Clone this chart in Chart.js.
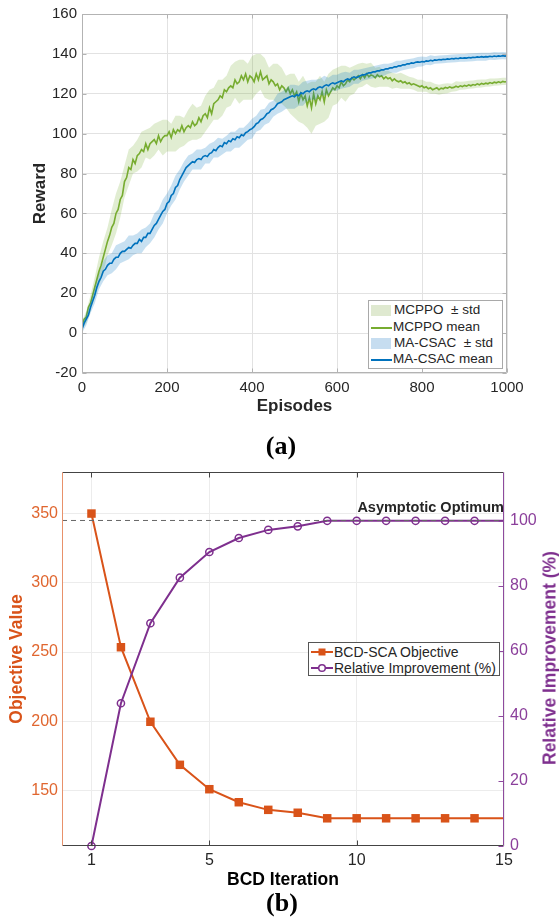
<!DOCTYPE html>
<html>
<head>
<meta charset="utf-8">
<script src="https://cdn.jsdelivr.net/npm/chart.js@4.4.1/dist/chart.umd.min.js"></script>
<style>
  html, body { margin:0; padding:0; background:#fff; }
  body { width:559px; height:922px; position:relative; overflow:hidden; font-family:'Liberation Sans', Arial, Helvetica, sans-serif; }
  canvas { position:absolute; left:0; }
  .ov { position:absolute; white-space:pre; }
  .leg { position:absolute; background:#fff; }
  .row { position:absolute; left:0; height:16px; line-height:16px; white-space:pre; }
  .cap { position:absolute; font-family:'Liberation Serif','Times New Roman',serif; font-weight:bold; font-size:26px; color:#000; transform:translate(-50%,-50%); }
</style>
</head>
<body>
<canvas id="c1" width="559" height="420" style="top:0"></canvas>
<canvas id="c2" width="559" height="460" style="top:440px"></canvas>

<div class="leg" style="left:368px;top:300px;width:133px;height:67px;border:1px solid #a9a9a9;font-size:13.5px;color:#262626;">
  <div class="row" style="top:1px"><span style="position:absolute;left:2px;top:3px;width:20px;height:11px;background:#dfe9d0"></span><span style="position:absolute;left:25px">MCPPO  ± std</span></div>
  <div class="row" style="top:18px"><span style="position:absolute;left:2px;top:8px;width:21px;height:1.5px;background:#77AC30"></span><span style="position:absolute;left:24px">MCPPO mean</span></div>
  <div class="row" style="top:34px"><span style="position:absolute;left:2px;top:3px;width:20px;height:11px;background:#c6ddf0"></span><span style="position:absolute;left:25px">MA-CSAC  ± std</span></div>
  <div class="row" style="top:50px"><span style="position:absolute;left:2px;top:8px;width:21px;height:1.5px;background:#0072BD"></span><span style="position:absolute;left:24px">MA-CSAC mean</span></div>
</div>

<div class="leg" style="left:308px;top:642px;width:190px;height:32px;border:1px solid #555;font-size:14px;color:#262626;">
  <div class="row" style="top:1px;height:16px"><svg style="position:absolute;left:2px;top:0" width="22" height="16"><line x1="0" y1="8" x2="22" y2="8" stroke="#D95319" stroke-width="2"/><rect x="7.5" y="4.5" width="7" height="7" fill="#D95319"/></svg><span style="position:absolute;left:25px">BCD-SCA Objective</span></div>
  <div class="row" style="top:17px;height:16px"><svg style="position:absolute;left:2px;top:0" width="22" height="16"><line x1="0" y1="8" x2="22" y2="8" stroke="#7E2F8E" stroke-width="2"/><circle cx="11" cy="8" r="3.3" fill="#fff" stroke="#7E2F8E" stroke-width="1.5"/></svg><span style="position:absolute;left:25px">Relative Improvement (%)</span></div>
</div>

<div class="ov" style="right:55px;top:498px;font-size:14.5px;font-weight:bold;color:#262626;line-height:18px;">Asymptotic Optimum</div>
<div class="ov" style="left:550px;top:658px;transform:translate(-50%,-50%) rotate(-90deg);font-size:17.5px;font-weight:bold;color:#7E2F8E;">Relative Improvement (%)</div>
<div class="cap" style="left:281px;top:446px">(a)</div>
<div class="cap" style="left:282px;top:903px">(b)</div>

<script>
// ---------------- (a) Reward vs Episodes ----------------
const episodeStep = 5;           // mean curves sampled every 5 episodes
const stdStep = 10;              // std band sampled every 10 episodes
const rewardTicksY = [-20, 0, 20, 40, 60, 80, 100, 120, 140, 160];
const episodeTicks = [0, 200, 400, 600, 800, 1000];

const mcppoMean = [
  4,7,8,13,15,19,23,27,31,34,
  38,42,46,49,53,55,60,62,67,69,
  76,78,83,82,87,85,89,90,92,91,
  95,92,95,96,97,95,99,96,98,99,
  99,101,98,102,100,102,101,104,101,103,
  104,103,106,104,105,108,106,109,110,108,
  113,110,115,116,117,119,118,122,121,123,
  124,123,127,125,126,129,127,130,126,129,
  128,126,130,127,131,127,128,129,125,127,
  126,124,125,122,124,123,121,123,120,122,
  119,121,116,120,117,119,114,118,113,120,
  115,119,117,121,116,122,119,121,123,122,
  124,123,126,124,125,127,126,128,127,128,
  129,127.5,129.5,128,130,128.5,129.5,129,128,129.5,
  128.5,129,127.5,128.5,127.5,128,126.5,127.5,126.5,126,
  126.5,125.5,126,125,125.5,124.5,125,124.5,124,123.5,
  124,123,123.5,122.5,123,122,122.5,123,122,122.8,
  122.5,123.2,122.8,123.5,123,123.2,123.8,123.3,124,123.6,
  124.2,123.8,124.5,124,124.6,124.3,125,124.5,125.2,124.8,
  125.3,125,125.6,125.2,125.8,125.5,126,125.6,126.2,125.9,
  126.2
];
const macsacMean = [
  2,5,7,9,13,16,19,23,26,28,
  31,32,34,35,35,37,38,38,40,41,
  41,42,43,42.5,44,45,45,47,46,48,
  48,50,50,52,54,55,57,59,61,62,
  65,66,69,70,73,74,77,79,81,83,
  84,85,86,85.5,87,87.5,87,88.5,89,88.5,
  90,90.5,92,91.5,93,94,93.5,95.5,95,96.5,
  96,97.5,97,98.5,98,99.5,99,100.5,101,102,
  102.5,103.5,105,105.5,107,107.5,108.5,110,110.5,112,
  112.5,113.5,115,115.5,116,117,117.5,118,118.5,119,
  118.5,119.5,119,120.5,120,121,121.5,121,122,122.5,
  122,123,123.5,123,124,124.5,124,125,125.5,125,
  125.5,126,126.5,126,127,127.5,127,128,128.5,128,
  128.5,129,129.5,129.5,130,130.5,130.5,131,131,131.5,
  131.5,132,132,132.5,132.5,133,133,133.5,133.5,134,
  134,134.5,134.5,135,135,135.5,135.3,135.8,136,135.8,
  136.2,136,136.5,136.3,136.8,136.5,137,136.8,137.2,137,
  137.3,137.2,137.5,137.3,137.7,137.5,137.8,137.6,138,137.8,
  138,137.9,138.2,138,138.3,138.2,138.5,138.3,138.6,138.4,
  138.6,138.5,138.8,138.6,138.9,138.7,139,138.8,139.1,138.9,
  139
];
const mcppoStd = [
  2,3,4,5,7,8,7,9,10,9,
  8,9,7,8,9,7,8,8,7,9,
  8,7,9,8,7,8,9,8,8,9,
  9,8,10,9,8,10,9,11,10,9,
  11,10,9,10,8,9,10,9,8,10,
  11,10,12,11,13,11,12,10,11,9,
  9,8,9,7,7,6,6,5,6,5,
  5,4,4,4,3.5,4,3.5,3,3,3,
  3,2.5,3,2.5,2.5,2.5,2.5,2,2.5,2,
  2,2,2,2,2,1.8,2,1.8,1.8,1.8,
  1.8
];
const macsacStd = [
  2,3,3,4,4,5,5,5,6,5,
  5,6,5,5,6,5,5,6,5,6,
  5,5,6,5,5,5,4,5,5,4,
  5,4,5,4,4,5,4,5,4,4,
  5,4,5,4,5,4,5,5,5,6,
  6,5,6,5,5,5,4,5,4,4,
  4,4,4,3.5,3.5,3.5,3,3,3,3,
  3,3,2.5,2.5,3,2.5,2.5,2.5,2.5,2.5,
  2.5,2,2.5,2,2,2,2,2,2,2,
  2,2,2,2,2,2,1.8,2,1.8,1.8,
  1.8
];

// ---------------- (b) BCD iterations ----------------
const bcdIterations = [1,2,3,4,5,6,7,8,9,10,11,12,13,14,15];
const objectiveValues = [350,253.5,199.7,168.6,151,141.6,136.1,134,130,130,130,130,130,130,130];
const improvementPct = [0,43.9,68.5,82.5,90.4,94.7,97.2,98.3,100,100,100,100,100,100,100];
const asymptoticOptimum = 345;
const bcdTicksX = [1, 5, 10, 15];
const objectiveTicks = [150, 200, 250, 300, 350];
const improvementTicks = [0, 20, 40, 60, 80, 100];

const FAM = "'Liberation Sans', Arial, Helvetica, sans-serif";
Chart.defaults.font.family = FAM;
Chart.defaults.color = '#262626';

const meanPts = arr => arr.map((v, i) => ({x: i * episodeStep, y: v}));
const bandPts = (mean, std, sgn) => std.map((s, i) => {
  const ep = i * stdStep;
  return {x: ep, y: mean[ep / episodeStep] + sgn * s};
});
const plainLabel = v => String(v);

const frameA = {
  id: 'frameA',
  afterDatasetsDraw(chart) {
    const {ctx, chartArea: a, scales: {x, y}} = chart;
    const L = Math.round(a.left) + 0.5, R = Math.round(a.right) - 0.5;
    const T = Math.round(a.top) + 0.5, B = Math.round(a.bottom) - 0.5;
    ctx.save();
    ctx.strokeStyle = '#b3b3b3'; ctx.lineWidth = 1;
    ctx.beginPath();
    ctx.moveTo(L, T); ctx.lineTo(R, T); ctx.lineTo(R, B); ctx.lineTo(L, B); ctx.closePath();
    episodeTicks.forEach(v => {
      const px = Math.round(x.getPixelForValue(v)) + 0.5;
      ctx.moveTo(px, B); ctx.lineTo(px, B - 4);
      ctx.moveTo(px, T); ctx.lineTo(px, T + 4);
    });
    rewardTicksY.forEach(v => {
      const py = Math.round(y.getPixelForValue(v)) + 0.5;
      ctx.moveTo(L, py); ctx.lineTo(L + 4, py);
      ctx.moveTo(R, py); ctx.lineTo(R - 4, py);
    });
    ctx.stroke();
    ctx.restore();
  }
};

new Chart(document.getElementById('c1'), {
  type: 'line',
  data: {
    datasets: [
      {label: 'MA-CSAC mean', data: meanPts(macsacMean), borderColor: '#0072BD', borderWidth: 1.6, pointRadius: 0, fill: false, tension: 0},
      {label: 'MA-CSAC upper', data: bandPts(macsacMean, macsacStd, 1), borderWidth: 0, borderColor: 'rgba(0,0,0,0)', pointRadius: 0, fill: '+1', backgroundColor: 'rgba(0,114,189,0.22)'},
      {label: 'MA-CSAC lower', data: bandPts(macsacMean, macsacStd, -1), borderWidth: 0, borderColor: 'rgba(0,0,0,0)', pointRadius: 0, fill: false},
      {label: 'MCPPO mean', data: meanPts(mcppoMean), borderColor: '#77AC30', borderWidth: 1.6, pointRadius: 0, fill: false, tension: 0},
      {label: 'MCPPO upper', data: bandPts(mcppoMean, mcppoStd, 1), borderWidth: 0, borderColor: 'rgba(0,0,0,0)', pointRadius: 0, fill: '+1', backgroundColor: 'rgba(119,172,48,0.22)'},
      {label: 'MCPPO lower', data: bandPts(mcppoMean, mcppoStd, -1), borderWidth: 0, borderColor: 'rgba(0,0,0,0)', pointRadius: 0, fill: false}
    ]
  },
  options: {
    responsive: false, animation: false, devicePixelRatio: 1, events: [],
    layout: {padding: {left: 0, right: 52, top: 14, bottom: 0}},
    plugins: {legend: {display: false}, tooltip: {enabled: false}},
    scales: {
      x: {
        type: 'linear', min: 0, max: 1000,
        afterBuildTicks: s => { s.ticks = episodeTicks.map(v => ({value: v})); },
        ticks: {color: '#262626', font: {size: 15}, padding: 6, maxRotation: 0, autoSkip: false, callback: plainLabel},
        grid: {color: '#e2e2e2', drawTicks: false},
        border: {display: false},
        title: {display: true, text: 'Episodes', color: '#262626', font: {size: 17, weight: 'bold'}, padding: {top: 0, bottom: 3.8}},
        afterFit: s => { s.height = 47; }
      },
      y: {
        type: 'linear', min: -20, max: 160,
        afterBuildTicks: s => { s.ticks = rewardTicksY.map(v => ({value: v})); },
        ticks: {color: '#262626', font: {size: 15}, padding: 5, autoSkip: false, callback: plainLabel},
        grid: {color: '#e2e2e2', drawTicks: false},
        border: {display: false},
        title: {display: true, text: 'Reward', color: '#262626', font: {size: 17, weight: 'bold'}, padding: {top: 29.8, bottom: 0}},
        afterFit: s => { s.width = 82; }
      }
    }
  },
  plugins: [frameA]
});

const frameB = {
  id: 'frameB',
  afterDatasetsDraw(chart) {
    const {ctx, chartArea: a, scales: {x, y2}} = chart;
    const L = Math.round(a.left) + 0.5, R = Math.round(a.right) - 0.5;
    const T = Math.round(a.top) + 0.5, B = Math.round(a.bottom) - 0.5;
    ctx.save();
    ctx.lineWidth = 1;
    ctx.strokeStyle = '#444';
    ctx.beginPath();
    ctx.moveTo(L, T); ctx.lineTo(R, T);
    ctx.moveTo(L, B); ctx.lineTo(R, B);
    bcdTicksX.slice(0, 3).forEach(v => {
      const px = Math.round(x.getPixelForValue(v)) + 0.5;
      ctx.moveTo(px, B); ctx.lineTo(px, B - 5);
      ctx.moveTo(px, T); ctx.lineTo(px, T + 5);
    });
    ctx.stroke();
    ctx.strokeStyle = '#E8916A';
    ctx.beginPath(); ctx.moveTo(L, T); ctx.lineTo(L, B); ctx.stroke();
    ctx.strokeStyle = '#8E4A9E';
    ctx.beginPath(); ctx.moveTo(R, T); ctx.lineTo(R, B);
    improvementTicks.forEach(v => {
      const py = Math.round(y2.getPixelForValue(v)) + 0.5;
      ctx.moveTo(R, py); ctx.lineTo(R - 5, py);
    });
    ctx.stroke();
    ctx.restore();
  }
};

const pointR = (r) => bcdIterations.map((_, i) => i < bcdIterations.length - 1 ? r : 0);

new Chart(document.getElementById('c2'), {
  type: 'line',
  data: {
    datasets: [
      {label: 'Asymptotic Optimum', data: [{x: 0, y: asymptoticOptimum}, {x: 15, y: asymptoticOptimum}], yAxisID: 'y',
       borderColor: '#666', borderWidth: 1, borderDash: [5, 4], pointRadius: 0, fill: false},
      {label: 'Relative Improvement (%)', data: bcdIterations.map((it, i) => ({x: it, y: improvementPct[i]})), yAxisID: 'y2',
       borderColor: '#7E2F8E', borderWidth: 2, pointStyle: 'circle', pointRadius: pointR(3.6),
       pointBorderWidth: 1.5, pointBorderColor: '#7E2F8E', pointBackgroundColor: 'rgba(0,0,0,0)', fill: false, clip: false},
      {label: 'BCD-SCA Objective', data: bcdIterations.map((it, i) => ({x: it, y: objectiveValues[i]})), yAxisID: 'y',
       borderColor: '#D95319', borderWidth: 2, pointStyle: 'rect', pointRadius: pointR(6),
       pointBorderWidth: 0, pointBackgroundColor: '#D95319', fill: false, clip: false}
    ]
  },
  options: {
    responsive: false, animation: false, devicePixelRatio: 1, events: [],
    layout: {padding: {left: 0, right: 0, top: 32, bottom: 0}},
    plugins: {legend: {display: false}, tooltip: {enabled: false}},
    scales: {
      x: {
        type: 'linear', min: 0, max: 15,
        afterBuildTicks: s => { s.ticks = bcdTicksX.map(v => ({value: v})); },
        ticks: {color: '#262626', font: {size: 16}, padding: 5, maxRotation: 0, autoSkip: false, callback: plainLabel},
        grid: {color: '#ececec', drawTicks: false},
        border: {display: false},
        title: {display: true, text: 'BCD Iteration', color: '#000', font: {size: 17.5, weight: 'bold'}, padding: {top: 0, bottom: 9.5}},
        afterFit: s => { s.height = 54; }
      },
      y: {
        type: 'linear', position: 'left', min: 110, max: 380,
        afterBuildTicks: s => { s.ticks = objectiveTicks.map(v => ({value: v})); },
        ticks: {color: '#E0662F', font: {size: 16}, padding: 4, autoSkip: false, callback: plainLabel},
        grid: {color: '#ececec', drawTicks: false},
        border: {display: false},
        title: {display: true, text: 'Objective Value', color: '#D95319', font: {size: 17.5, weight: 'bold'}, padding: {top: 7, bottom: 0}},
        afterFit: s => { s.width = 62; }
      },
      y2: {
        type: 'linear', position: 'right', min: 0, max: 115,
        afterBuildTicks: s => { s.ticks = improvementTicks.map(v => ({value: v})); },
        ticks: {color: '#8B3F9B', font: {size: 16}, padding: 6, autoSkip: false, callback: plainLabel},
        grid: {display: false, drawOnChartArea: false, drawTicks: false},
        border: {display: false},
        title: {display: false},
        afterFit: s => { s.width = 55; }
      }
    }
  },
  plugins: [frameB]
});
</script>
</body>
</html>
